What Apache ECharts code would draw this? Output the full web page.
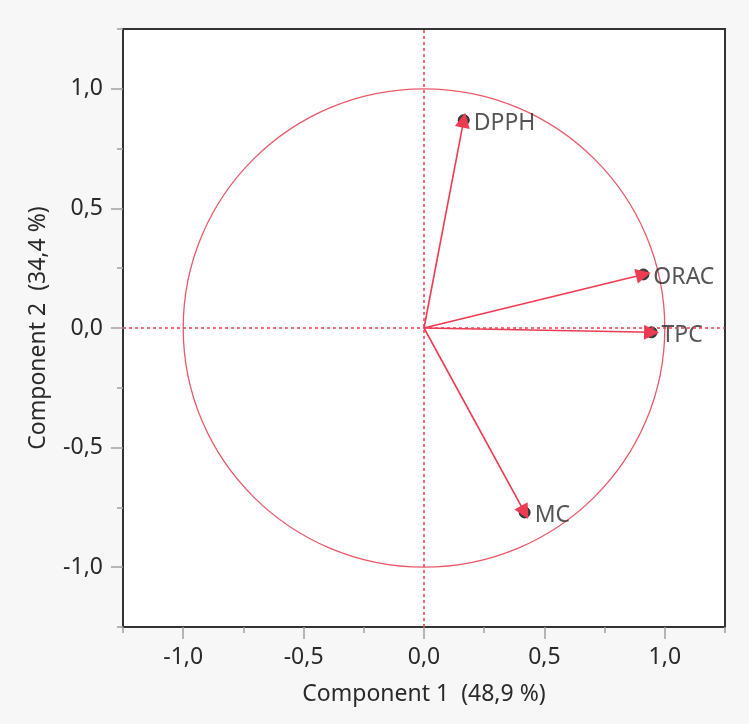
<!DOCTYPE html>
<html>
<head>
<meta charset="utf-8">
<script src="https://cdn.jsdelivr.net/npm/echarts@6/dist/echarts.min.js"></script>
<style>
  html, body { margin: 0; padding: 0; background: #f7f7f7; }
  #chart { width: 749px; height: 724px; }
</style>
</head>
<body>
<div id="chart"></div>
<script>
// Loadings of the four variables on the first two principal components
const variables = ['DPPH', 'ORAC', 'TPC', 'MC'];
const comp1 = [0.165, 0.911, 0.945, 0.418];
const comp2 = [0.869, 0.224, -0.018, -0.771];
const majorTicks = [-1, -0.5, 0, 0.5, 1];
const xTitle = 'Component 1  (48,9 %)';
const yTitle = 'Component 2  (34,4 %)';

const RED = '#ee3b52';
const FONT = 'Noto Sans';
const FSIZE = 23;
const fmt = v => v.toFixed(1).replace('.', ',');

const chart = echarts.init(document.getElementById('chart'));

function baseAxis(name, isX) {
  return {
    type: 'value', min: -1.25, max: 1.25, interval: 0.25,
    name: name, nameLocation: 'middle', nameGap: isX ? 56 : 73,
    nameTextStyle: { color: '#2a2a2a', fontFamily: FONT, fontSize: FSIZE },
    axisLine: { show: false, onZero: false },
    splitLine: { show: false },
    axisTick: { show: true, length: 6, lineStyle: { color: '#a0a0a0', width: 1.5 } },
    axisLabel: {
      customValues: majorTicks, formatter: fmt,
      color: '#2a2a2a', fontFamily: FONT, fontSize: FSIZE, margin: isX ? 19 : 20
    }
  };
}
// Overlay axis carrying only the longer ticks at the labelled values
function majorAxis(isX) {
  return {
    type: 'value', min: -1.25, max: 1.25, interval: 0.25,
    position: isX ? 'bottom' : 'left',
    axisLine: { show: false, onZero: false }, splitLine: { show: false },
    axisLabel: { show: false },
    axisTick: { show: true, customValues: majorTicks, length: 12, lineStyle: { color: '#a0a0a0', width: 1.5 } }
  };
}

chart.setOption({
  backgroundColor: '#f7f7f7',
  animation: false,
  grid: {
    left: 123, top: 29, right: 24, bottom: 97,
    show: true, backgroundColor: '#ffffff', borderColor: '#333333', borderWidth: 2
  },
  xAxis: [baseAxis(xTitle, true), majorAxis(true)],
  yAxis: [baseAxis(yTitle, false), majorAxis(false)],
  series: [
    {
      // unit correlation circle and the zero reference lines
      type: 'custom',
      silent: true,
      z: 2,
      renderItem: function (params, api) {
        const c = api.coord([0, 0]);
        const s = api.size([1, 1]);
        return {
          type: 'ellipse',
          shape: { cx: c[0], cy: c[1], rx: s[0], ry: s[1] },
          style: { fill: 'none', stroke: '#ec5868', lineWidth: 1.3 }
        };
      },
      data: [[0, 0]],
      markLine: {
        silent: true, symbol: 'none', label: { show: false },
        lineStyle: { color: RED, type: [3, 3], width: 1.5 },
        data: [{ xAxis: 0 }, { yAxis: 0 }]
      }
    },
    {
      type: 'scatter',
      z: 3,
      symbolSize: 11,
      itemStyle: { color: '#111', borderColor: '#111' },
      label: {
        show: true, position: 'right', distance: 4, offset: [0, 3],
        formatter: p => variables[p.dataIndex],
        color: '#2a2a2a', fontFamily: FONT, fontSize: FSIZE
      },
      data: comp1.map((x, i) => [x, comp2[i]])
    },
    {
      type: 'lines',
      coordinateSystem: 'cartesian2d',
      z: 4,
      symbol: ['none', 'triangle'],
      symbolSize: [13, 15],
      lineStyle: { color: RED, width: 1.6, opacity: 1 },
      data: comp1.map((x, i) => ({ coords: [[0, 0], [x, comp2[i]]] }))
    }
  ]
});
</script>
</body>
</html>
